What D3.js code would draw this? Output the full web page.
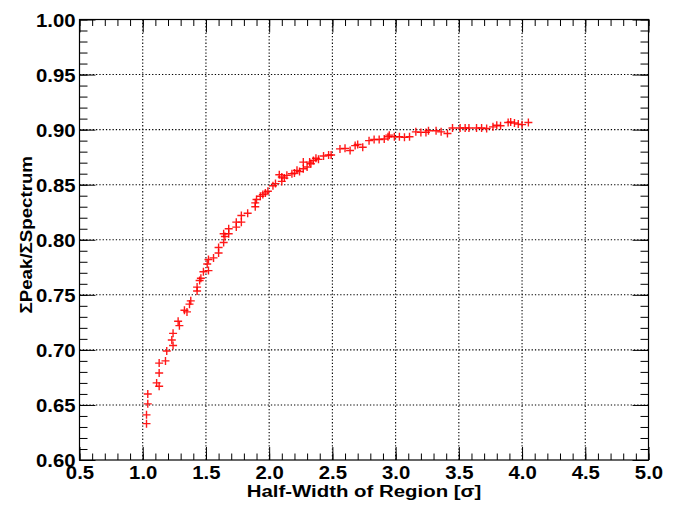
<!DOCTYPE html>
<html>
<head>
<meta charset="utf-8">
<script src="https://cdn.jsdelivr.net/npm/d3@7"></script>
<style>
  body { margin: 0; background: #fff; }
  text { font-family: "Liberation Sans", Arial, Helvetica, sans-serif; font-weight: bold; fill: #000; }
</style>
</head>
<body>
<script>
// values
var halfWidth = [1.03, 1.03, 1.04, 1.04, 1.11, 1.13, 1.13, 1.13, 1.18, 1.19,
  1.23, 1.24, 1.24, 1.28, 1.29, 1.33, 1.35, 1.37, 1.38, 1.43,
  1.43, 1.45, 1.46, 1.48, 1.51, 1.52, 1.52, 1.56, 1.60, 1.60,
  1.64, 1.64, 1.65, 1.68, 1.68, 1.74, 1.74, 1.78, 1.78, 1.83,
  1.89, 1.89, 1.90, 1.93, 1.95, 1.97, 1.99, 2.03, 2.05, 2.08,
  2.10, 2.10, 2.12, 2.14, 2.18, 2.20, 2.22, 2.24, 2.27, 2.27,
  2.30, 2.32, 2.33, 2.35, 2.37, 2.39, 2.43, 2.47, 2.49, 2.56,
  2.60, 2.64, 2.68, 2.70, 2.74, 2.79, 2.83, 2.87, 2.91, 2.94,
  2.95, 2.99, 3.03, 3.07, 3.11, 3.16, 3.20, 3.24, 3.26, 3.32,
  3.36, 3.41, 3.45, 3.51, 3.55, 3.58, 3.64, 3.68, 3.72, 3.77,
  3.80, 3.83, 3.89, 3.91, 3.94, 3.97, 4.00, 4.05];
var peakFrac = [0.633, 0.641, 0.651, 0.660, 0.670, 0.667, 0.679, 0.688, 0.690, 0.699,
  0.709, 0.704, 0.715, 0.726, 0.722, 0.736, 0.7345, 0.7415, 0.7445, 0.7535,
  0.757, 0.763, 0.765, 0.771, 0.778, 0.772, 0.782, 0.7835, 0.788, 0.793,
  0.7975, 0.8055, 0.803, 0.8055, 0.810, 0.8115, 0.816, 0.816, 0.822, 0.824,
  0.830, 0.8335, 0.8365, 0.8395, 0.841, 0.8425, 0.844, 0.849, 0.851, 0.859,
  0.853, 0.857, 0.856, 0.8585, 0.860, 0.8605, 0.863, 0.862, 0.8645, 0.8705,
  0.866, 0.8705, 0.869, 0.872, 0.874, 0.873, 0.876, 0.877, 0.877, 0.8825,
  0.883, 0.881, 0.8855, 0.8865, 0.884, 0.890, 0.891, 0.891, 0.8915, 0.8935,
  0.895, 0.8935, 0.8935, 0.893, 0.8935, 0.898, 0.8975, 0.8975, 0.899, 0.899,
  0.898, 0.8965, 0.9015, 0.9015, 0.9015, 0.9015, 0.9015, 0.9015, 0.901, 0.9025,
  0.904, 0.9035, 0.9065, 0.907, 0.906, 0.905, 0.9045, 0.9065];

var xMajor = [0.5, 1.0, 1.5, 2.0, 2.5, 3.0, 3.5, 4.0, 4.5, 5.0];
var yMajor = [0.60, 0.65, 0.70, 0.75, 0.80, 0.85, 0.90, 0.95, 1.00];
var xMinor = d3.range(5, 51).map(d => d / 10);
var yMinor = d3.range(60, 101).map(d => d / 100);

var svgWidth = 683, svgHeight = 506;
var margin = { top: 19.5, right: 34.5, bottom: 46, left: 79.5 };
var width = svgWidth - margin.left - margin.right;
var height = svgHeight - margin.top - margin.bottom;
var stretch = 1.1;

var svg = d3.select("body").append("svg")
  .attr("width", svgWidth)
  .attr("height", svgHeight);
svg.append("rect").attr("width", svgWidth).attr("height", svgHeight).attr("fill", "#fff");

var chartGroup = svg.append("g")
  .attr("transform", `translate(${margin.left}, ${margin.top})`);

var x = d3.scaleLinear().domain([0.5, 5.0]).range([0, width]);
var y = d3.scaleLinear().domain([0.60, 1.00]).range([height, 0]);

// dotted grid at inner major ticks
chartGroup.append("g")
  .selectAll("line")
  .data(xMajor.slice(1, -1))
  .enter().append("line")
  .attr("x1", d => x(d)).attr("x2", d => x(d))
  .attr("y1", 0).attr("y2", height)
  .attr("stroke", "#000").attr("stroke-width", 1.1)
  .attr("stroke-dasharray", "1.3,2");
chartGroup.append("g")
  .selectAll("line")
  .data(yMajor.slice(1, -1))
  .enter().append("line")
  .attr("x1", 0).attr("x2", width)
  .attr("y1", d => y(d)).attr("y2", d => y(d))
  .attr("stroke", "#000").attr("stroke-width", 1.1)
  .attr("stroke-dasharray", "1.3,2");

// tick marks on all four sides, pointing inward
function tickAxis(axis, values, size, transform) {
  var g = chartGroup.append("g")
    .attr("transform", transform)
    .call(axis.tickValues(values).tickSizeInner(-size).tickSizeOuter(0).tickFormat(""));
  g.select(".domain").remove();
  g.selectAll("line").attr("stroke", "#000");
}
tickAxis(d3.axisBottom(x), xMinor, 6.5, `translate(0,${height})`);
tickAxis(d3.axisBottom(x), xMajor, 13, `translate(0,${height})`);
tickAxis(d3.axisTop(x), xMinor, 6.5, "translate(0,0)");
tickAxis(d3.axisTop(x), xMajor, 13, "translate(0,0)");
tickAxis(d3.axisLeft(y), yMinor, 8, "translate(0,0)");
tickAxis(d3.axisLeft(y), yMajor, 16, "translate(0,0)");
tickAxis(d3.axisRight(y), yMinor, 8, `translate(${width},0)`);
tickAxis(d3.axisRight(y), yMajor, 16, `translate(${width},0)`);

// frame
chartGroup.append("rect")
  .attr("width", width).attr("height", height)
  .attr("fill", "none").attr("stroke", "#000").attr("stroke-width", 1.2);

// tick labels
var xLab = chartGroup.append("g")
  .attr("transform", `translate(0,${height})`)
  .call(d3.axisBottom(x).tickValues(xMajor).tickSize(0).tickFormat(d3.format(".1f")));
xLab.select(".domain").remove();
xLab.selectAll("text")
  .attr("y", 19).attr("dy", 0)
  .attr("font-size", "18.5px")
  .attr("transform", `scale(${stretch},1)`);

var yLab = chartGroup.append("g")
  .call(d3.axisLeft(y).tickValues(yMajor).tickSize(0).tickFormat(d3.format(".2f")));
yLab.select(".domain").remove();
yLab.selectAll("text")
  .attr("x", -3.5).attr("dy", 0).attr("y", 6.8)
  .attr("font-size", "18.5px")
  .attr("transform", `scale(${stretch},1)`);

// axis titles
svg.append("text")
  .attr("transform", `translate(${margin.left + width / 2}, 497) scale(1.2,1)`)
  .attr("text-anchor", "middle")
  .attr("font-size", "17px")
  .text("Half-Width of Region [σ]");

svg.append("text")
  .attr("transform", `translate(32, ${margin.top + height / 2 - 5}) rotate(-90) scale(${stretch},1)`)
  .attr("text-anchor", "middle")
  .attr("font-size", "17px")
  .text("ΣPeak/ΣSpectrum");

// markers
var pts = halfWidth.map((d, i) => ({ x: d, y: peakFrac[i] }));
var arm = 4;
var marks = chartGroup.append("g")
  .attr("stroke", "#ff0000").attr("stroke-width", 1.4).attr("stroke-opacity", 0.9);
marks.selectAll("path")
  .data(pts)
  .enter().append("path")
  .attr("d", d => {
    var cx = x(d.x), cy = y(d.y);
    return `M${cx - arm},${cy}H${cx + arm}M${cx},${cy - arm}V${cy + arm}`;
  });
</script>
</body>
</html>
